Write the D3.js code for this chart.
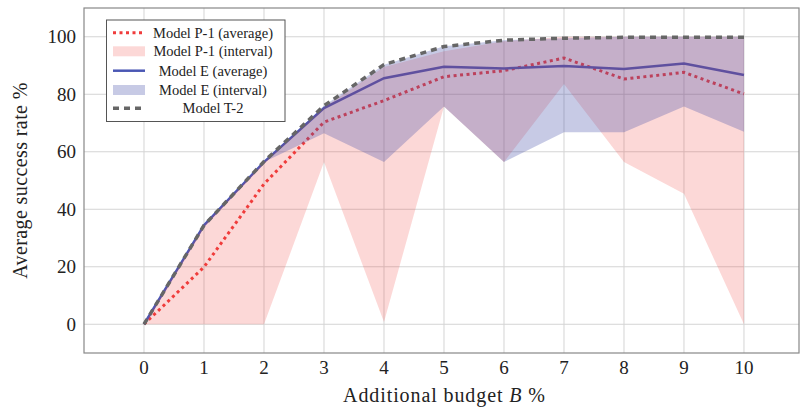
<!DOCTYPE html>
<html>
<head>
<meta charset="utf-8">
<script src="https://cdn.jsdelivr.net/npm/d3@7"></script>
<style>
  body { margin: 0; background: #fff; }
  text { font-family: "Liberation Serif", "DejaVu Serif", serif; fill: #222; }
</style>
</head>
<body>
<svg id="chart"></svg>
<script>
var budget = [0, 1, 2, 3, 4, 5, 6, 7, 8, 9, 10];

var p1Avg   = [0, 19.9, 48.8, 70.3, 77.8, 86.1, 88.2, 92.6, 85.3, 87.6, 80.1];
var p1Low   = [0, 0, 0, 56.4, 0.8, 75.7, 56.4, 83.6, 56.4, 45.4, 0];
var p1High  = [0, 34.4, 56.4, 75.5, 89.5, 95.0, 98.4, 100, 100, 100, 100];

var eAvg    = [0, 34.4, 56.4, 75.2, 85.6, 89.6, 89.0, 89.8, 88.8, 90.7, 86.7];
var eLow    = [0, 34.4, 56.4, 66.4, 56.4, 75.7, 56.4, 66.8, 66.8, 75.7, 67.0];
var eHigh   = [0, 34.4, 56.4, 76.0, 90.3, 96.7, 98.8, 99.5, 100, 100, 100];

var t2Avg   = [0, 34.4, 56.6, 76.0, 90.3, 96.6, 98.8, 99.5, 99.8, 99.8, 99.8];

var xTicks = [0, 1, 2, 3, 4, 5, 6, 7, 8, 9, 10];
var yTicks = [0, 20, 40, 60, 80, 100];

var legendLabels = ["Model P-1 (average)", "Model P-1 (interval)", "Model E (average)", "Model E (interval)", "Model T-2"];

var width = 801, height = 407;
var padLeft = 84, padRight = 799, padTop = 8, padBottom = 353;

var svg = d3.select("#chart")
    .attr("width", width)
    .attr("height", height);

var x = d3.scaleLinear().domain([-1, 10.917]).range([padLeft, padRight]);
var y = d3.scaleLinear().domain([-10, 110]).range([padBottom, padTop]);

// grid
svg.append("g").selectAll("line")
    .data(xTicks)
    .enter().append("line")
    .attr("x1", function (d) { return x(d); })
    .attr("x2", function (d) { return x(d); })
    .attr("y1", padTop)
    .attr("y2", padBottom)
    .attr("stroke", "#d4d4d4")
    .attr("stroke-width", 1);

svg.append("g").selectAll("line")
    .data(yTicks)
    .enter().append("line")
    .attr("x1", padLeft)
    .attr("x2", padRight)
    .attr("y1", function (d) { return y(d); })
    .attr("y2", function (d) { return y(d); })
    .attr("stroke", "#d4d4d4")
    .attr("stroke-width", 1);

function rows(avg, low, high) {
    return budget.map(function (b, i) {
        return { b: b, avg: avg ? avg[i] : null, low: low ? low[i] : null, high: high ? high[i] : null };
    });
}

var line = d3.line()
    .x(function (d) { return x(d.b); })
    .y(function (d) { return y(d.avg); });

var area = d3.area()
    .x(function (d) { return x(d.b); })
    .y0(function (d) { return y(d.low); })
    .y1(function (d) { return y(d.high); });

var plot = svg.append("g");

// average lines (under the shaded intervals)
plot.append("path")
    .datum(rows(p1Avg))
    .attr("d", line)
    .attr("fill", "none")
    .attr("stroke", "#f03c3c")
    .attr("stroke-width", 3)
    .attr("stroke-dasharray", "3,3.5");

plot.append("path")
    .datum(rows(eAvg))
    .attr("d", line)
    .attr("fill", "none")
    .attr("stroke", "#4a57b4")
    .attr("stroke-width", 2.5);

// intervals
plot.append("path")
    .datum(rows(null, p1Low, p1High))
    .attr("d", area)
    .attr("fill", "rgb(240,60,55)")
    .attr("fill-opacity", 0.2);

plot.append("path")
    .datum(rows(null, eLow, eHigh))
    .attr("d", area)
    .attr("fill", "rgb(70,80,170)")
    .attr("fill-opacity", 0.3);

// T-2
plot.append("path")
    .datum(rows(t2Avg))
    .attr("d", line)
    .attr("fill", "none")
    .attr("stroke", "#666")
    .attr("stroke-width", 3.5)
    .attr("stroke-dasharray", "6,5");

// frame
svg.append("rect")
    .attr("x", padLeft)
    .attr("y", padTop)
    .attr("width", padRight - padLeft)
    .attr("height", padBottom - padTop)
    .attr("fill", "none")
    .attr("stroke", "#888")
    .attr("stroke-width", 1.2);

// tick labels
svg.append("g").selectAll("text")
    .data(xTicks)
    .enter().append("text")
    .attr("x", function (d) { return x(d); })
    .attr("y", 374)
    .attr("text-anchor", "middle")
    .style("font-size", "19px")
    .text(function (d) { return d; });

svg.append("g").selectAll("text")
    .data(yTicks)
    .enter().append("text")
    .attr("x", 76)
    .attr("y", function (d) { return y(d); })
    .attr("dy", "0.35em")
    .attr("text-anchor", "end")
    .style("font-size", "19px")
    .text(function (d) { return d; });

// axis titles
var xt = svg.append("text")
    .attr("x", (padLeft + padRight) / 2 + 3)
    .attr("y", 402)
    .attr("text-anchor", "middle")
    .style("font-size", "20px")
    .style("letter-spacing", "0.9px");
xt.append("tspan").text("Additional budget ");
xt.append("tspan").style("font-style", "italic").text("B");
xt.append("tspan").text(" %");

svg.append("text")
    .attr("transform", "translate(27," + ((padTop + padBottom) / 2) + ") rotate(-90)")
    .attr("text-anchor", "middle")
    .style("font-size", "20px")
    .style("letter-spacing", "0.4px")
    .text("Average success rate %");

// legend
var lg = svg.append("g");
lg.append("rect")
    .attr("x", 106.5)
    .attr("y", 20)
    .attr("width", 178.5)
    .attr("height", 101.5)
    .attr("fill", "#fff")
    .attr("stroke", "#555")
    .attr("stroke-width", 1);

var legendY = [32.7, 51.3, 70.7, 90, 108.3];
var sampleX1 = 113, sampleX2 = 145;

lg.append("line")
    .attr("x1", sampleX1).attr("x2", sampleX2)
    .attr("y1", legendY[0]).attr("y2", legendY[0])
    .attr("stroke", "#f03c3c").attr("stroke-width", 3)
    .attr("stroke-dasharray", "3,3.5");
lg.append("rect")
    .attr("x", sampleX1).attr("y", legendY[1] - 5)
    .attr("width", sampleX2 - sampleX1).attr("height", 10)
    .attr("fill", "rgb(240,60,55)").attr("fill-opacity", 0.2);
lg.append("line")
    .attr("x1", sampleX1).attr("x2", sampleX2)
    .attr("y1", legendY[2]).attr("y2", legendY[2])
    .attr("stroke", "#4a57b4").attr("stroke-width", 2.5);
lg.append("rect")
    .attr("x", sampleX1).attr("y", legendY[3] - 5)
    .attr("width", sampleX2 - sampleX1).attr("height", 10)
    .attr("fill", "rgb(70,80,170)").attr("fill-opacity", 0.3);
lg.append("line")
    .attr("x1", sampleX1).attr("x2", sampleX2)
    .attr("y1", legendY[4]).attr("y2", legendY[4])
    .attr("stroke", "#666").attr("stroke-width", 3.5)
    .attr("stroke-dasharray", "6,5");

lg.selectAll(".lgtext")
    .data(legendLabels)
    .enter().append("text")
    .attr("class", "lgtext")
    .attr("x", 213)
    .attr("y", function (d, i) { return legendY[i]; })
    .attr("dy", "0.35em")
    .attr("text-anchor", "middle")
    .style("font-size", "14.5px")
    .text(function (d) { return d; });
</script>
</body>
</html>
